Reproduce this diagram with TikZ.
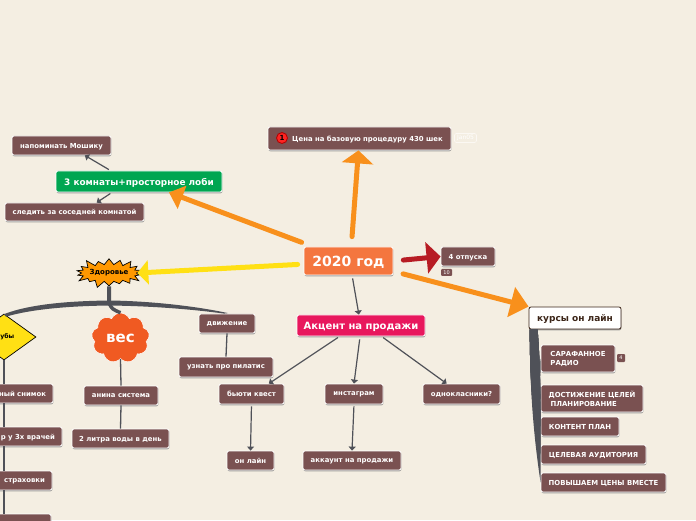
\documentclass[tikz,border=0pt]{standalone}
\usepackage{xcolor}
\usepackage{fontspec}
\setmainfont{DejaVu Sans}
\usetikzlibrary{arrows.meta,calc,shadows,shapes.geometric,shapes.symbols}
\definecolor{MapPaper}{HTML}{F4EEE2}
\definecolor{MapBrown}{HTML}{7A5151}
\definecolor{MapGrey}{HTML}{4F5158}
\definecolor{MapOrange}{HTML}{F8901C}
\definecolor{MapYellow}{HTML}{FFE014}
\definecolor{MapRed}{HTML}{B71C24}
\definecolor{MapCoral}{HTML}{F4763F}
\definecolor{MapGreen}{HTML}{00A651}
\definecolor{MapPink}{HTML}{E8175D}
\definecolor{MapCloud}{HTML}{F05A22}
\definecolor{MapAmber}{HTML}{FF9800}
\definecolor{MapDark}{HTML}{3B2417}
\tikzset{
  mapbox/.style={rectangle,rounded corners=2pt,draw=white,line width=.8pt,inner sep=0pt,
    font=\bfseries,text=white,align=center,text depth=0pt,
    drop shadow={shadow xshift=.4pt,shadow yshift=-1.3pt,fill=black!45,opacity=.8}},
  leafbox/.style={mapbox,fill=MapBrown,font=\fontsize{6.9}{9}\selectfont\bfseries},
  capsbox/.style={leafbox,align=left},
  cutbox/.style={leafbox,align=flush right,inner xsep=7pt},
  tagbox/.style={rectangle,rounded corners=1pt,fill=MapBrown,text=white,inner sep=0pt,
    font=\fontsize{5}{5}\selectfont},
  thinarrow/.style={MapGrey,line width=1.2pt,-{Triangle[length=4pt,width=7pt]},shorten <=2pt},
  plainline/.style={MapGrey,line width=1.3pt},
  bigarrow/.style={line width=5pt,line cap=round},
}
\begin{document}
\begin{tikzpicture}[x=1pt,y=1pt]
\path[use as bounding box] (0,0) rectangle (696,520);
\fill[MapPaper] (0,0) rectangle (696,520);
% centre
\node[mapbox,fill=MapCoral,minimum width=89pt,minimum height=28pt,font=\fontsize{14}{14}\selectfont\bfseries] (year) at (348.5,259) {2020 год};
% upper left
\node[mapbox,fill=MapGreen,minimum width=166pt,minimum height=21pt,font=\fontsize{8.9}{8.9}\selectfont\bfseries] (room) at (139,338.5) {3 комнаты+просторное лоби};
\node[leafbox,minimum width=99pt,minimum height=19pt] (reminder) at (61.5,374.5) {напоминать Мошику};
\node[leafbox,minimum width=139pt,minimum height=18pt] (watch) at (74.5,308) {следить за соседней комнатой};
% top
\node[leafbox,minimum width=183pt,minimum height=23pt] (price) at (359.5,381.5) {\hspace*{16pt}Цена на базовую процедуру 430 шек};
\node[circle,fill=red!85!MapPaper,draw=red!70!black,line width=.8pt,minimum size=11pt,inner sep=0pt,font=\fontsize{7}{7}\selectfont\bfseries] (priceicon) at (282,382) {1};
\node[rectangle,rounded corners=1.5pt,draw=white!60!MapPaper,line width=.6pt,text=white,minimum width=22pt,minimum height=9pt,inner sep=0pt,font=\fontsize{6}{6}\selectfont] (pricedate) at (465.5,382) {Jan05};
% right
\node[leafbox,minimum width=54pt,minimum height=19pt] (holiday) at (468,263.5) {4 отпуска};
\node[tagbox,minimum width=11pt,minimum height=7pt] (holidaytag) at (446.5,247.5) {10};
% sales
\node[mapbox,fill=MapPink,minimum width=128pt,minimum height=21pt,font=\fontsize{10}{10}\selectfont\bfseries] (accent) at (361,194.5) {Акцент на продажи};
\node[leafbox,minimum width=65pt,minimum height=20pt] (beauty) at (251.5,126) {бьюти квест};
\node[leafbox,minimum width=58pt,minimum height=20pt] (insta) at (354,126) {инстаграм};
\node[leafbox,minimum width=77pt,minimum height=20pt] (classmates) at (461.5,126) {однокласники?};
\node[leafbox,minimum width=47pt,minimum height=19pt] (online) at (250.5,59.5) {он лайн};
\node[leafbox,minimum width=98pt,minimum height=19pt] (account) at (352,59.5) {аккаунт на продажи};
% courses
\node[mapbox,fill=white,draw=MapDark,text=MapDark,minimum width=92pt,minimum height=22pt,font=\fontsize{9}{9}\selectfont\bfseries] (course) at (575,202) {курсы он лайн};
\node[capsbox,minimum width=74pt,minimum height=27pt] (radio) at (578,161.5) {САРАФАННОЕ\\РАДИО};
\node[tagbox,minimum width=8pt,minimum height=8pt] (radiotag) at (621,162) {4};
\node[capsbox,minimum width=102pt,minimum height=27pt] (goals) at (592,121.5) {ДОСТИЖЕНИЕ ЦЕЛЕЙ\\\hspace*{2pt}ПЛАНИРОВАНИЕ};
\node[leafbox,minimum width=78pt,minimum height=19pt] (content) at (580,93.5) {КОНТЕНТ ПЛАН};
\node[leafbox,minimum width=105pt,minimum height=19pt] (target) at (593.5,65.5) {ЦЕЛЕВАЯ АУДИТОРИЯ};
\node[leafbox,minimum width=125pt,minimum height=19pt] (prices) at (603.5,37.5) {ПОВЫШАЕМ ЦЕНЫ ВМЕСТЕ};
% health
\node[starburst,starburst points=18,starburst point height=8pt,fill=MapAmber,draw=black,line width=.7pt,minimum width=66pt,minimum height=33pt,inner sep=0pt,font=\fontsize{7}{7}\selectfont\bfseries] (health) at (109,247) {Здоровье};
\node[diamond,fill=MapYellow,draw=black,line width=.7pt,minimum width=64pt,minimum height=46pt,inner sep=0pt] (teeth) at (4,183) {};
\node[font=\fontsize{6.2}{6.2}\selectfont\bfseries,inner sep=0pt,anchor=east] (teethtext) at (14.5,183) {убы};
\node[cloud,cloud puffs=9,cloud puff arc=130,aspect=1.1,fill=MapCloud,draw=white,line width=.5pt,text=white,minimum width=58pt,minimum height=50pt,inner sep=0pt,font=\fontsize{15}{15}\selectfont\bfseries] (weight) at (120.5,182) {вес};
\node[leafbox,minimum width=56pt,minimum height=19pt] (moving) at (227,196.5) {движение};
\node[leafbox,minimum width=94pt,minimum height=20pt] (pilates) at (226,153) {узнать про пилатис};
\node[leafbox,minimum width=74pt,minimum height=19pt] (anna) at (121,124.5) {анина система};
\node[leafbox,minimum width=97pt,minimum height=19pt] (liters) at (120.5,81.5) {2 литра воды в день};
\node[cutbox,minimum height=19pt,text width=50pt] (xray) at (21,126.5) {ный снимок};
\node[cutbox,minimum height=19pt,text width=56pt] (doctors) at (27,83.5) {р у 3х врачей};
\node[cutbox,minimum height=19pt,text width=46pt] (insurance) at (22,39.5) {страховки};
\node[cutbox,minimum height=20pt,text width=45pt] (lastleaf) at (21.5,-4) {};
% thick arrows
\draw[bigarrow,MapOrange,-{Triangle[length=14pt,width=24pt]},shorten <=12pt] (year.158) -- (room.-20);
\draw[bigarrow,MapOrange,-{Triangle[length=13pt,width=31pt]},shorten <=10pt] (year.79) -- (price.-95);
\draw[bigarrow,MapOrange,-{Triangle[length=18pt,width=30pt]},shorten <=10pt] (year.-13) -- (course.north west);
\draw[bigarrow,MapYellow,-{Triangle[length=11pt,width=24pt]},shorten <=6pt] (year.184) -- (health.east);
\draw[bigarrow,MapRed,-{Triangle[length=14pt,width=31pt]},shorten <=10pt] (year.east) -- (holiday.west);
% thin arrows
\draw[thinarrow] (room.159) -- (reminder.-23);
\draw[thinarrow] (room.202) -- (watch.23);
\draw[thinarrow,shorten <=3pt] (year.-76) -- (accent.101);
\draw[thinarrow] (accent.-153) -- (beauty.31);
\draw[thinarrow,shorten <=3pt] (accent.-95) -- (insta.90);
\draw[thinarrow] (accent.-28) -- (classmates.145);
\draw[thinarrow] (beauty.south) -- (online.north);
\draw[thinarrow] (insta.south) -- (account.north);
% plain lines
\draw[plainline] (moving.south) -- (pilates.north);
\draw[plainline] (weight.south) -- (anna.north);
\draw[plainline] (anna.south) -- (liters.north);
\draw[plainline] (teeth.south) -- (teeth.south |- xray.north);
\draw[plainline] (teeth.south |- xray.south) -- (teeth.south |- doctors.north);
\draw[plainline] (teeth.south |- doctors.south) -- (teeth.south |- insurance.north);
\draw[plainline] (teeth.south |- insurance.south) -- (teeth.south |- lastleaf.north);
% health branches
\coordinate (healthhub) at (109,217);
\draw[MapGrey,line width=4pt] (health.south) -- (healthhub);
\fill[MapGrey] ($(healthhub)+(0,2.5)$) .. controls (70,219) and (30,216) .. ($(teeth.north)+(0,-.5)$) -- ($(teeth.north)+(2,-3)$) .. controls (32,211) and (70,214) .. ($(healthhub)+(0,-2.5)$) -- cycle;
\fill[MapGrey] ($(healthhub)+(0,2.5)$) .. controls (150,219) and (195,214) .. ($(moving.north)+(1,.5)$) -- ($(moving.north)+(-3,0)$) .. controls (190,211) and (150,214) .. ($(healthhub)+(0,-2.5)$) -- cycle;
\draw[MapGrey,line width=3.5pt] (healthhub) .. controls (112,211) .. (weight.north);
% course branches
\foreach \leaf in {radio,goals,content,target,prices}{
  \fill[MapGrey] ($(course.south west)+(1,0)$) .. controls (530,150) and (531,100) .. (\leaf.west) .. controls (541,120) and (540,160) .. ($(course.south west)+(9,0)$) -- cycle;
}
\end{tikzpicture}
\end{document}
